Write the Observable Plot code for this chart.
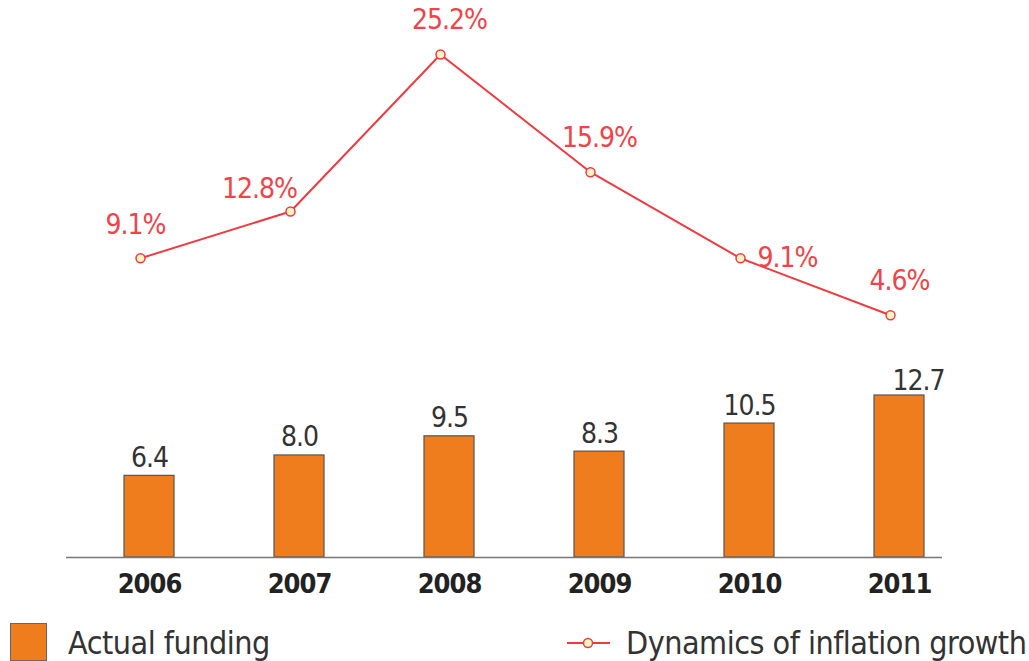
<!DOCTYPE html>
<html>
<head>
<meta charset="utf-8">
<script src="https://cdn.jsdelivr.net/npm/d3@7"></script>
<script src="https://cdn.jsdelivr.net/npm/@observablehq/plot@0.6"></script>
<style>
  body { margin: 0; background: white; font-family: "Liberation Sans Narrow", "DejaVu Sans Condensed", sans-serif; }
  #wrap { position: relative; width: 1029px; height: 615px; }
  #wrap svg { position: absolute; left: 0; top: 0; }
  #wrap svg text { letter-spacing: -1px; }
  #legend { position: relative; width: 1029px; height: 46px; color: #333; }
  .sw { position: absolute; left: 10px; top: 8px; width: 35px; height: 36px; background: #ef7d1e; border: 1px solid #666; }
  .lt { position: absolute; font-size: 32px; letter-spacing: -0.5px; line-height: 1; white-space: nowrap; }
</style>
</head>
<body>
<div id="wrap"></div>
<div id="legend">
  <div class="sw"></div>
  <div class="lt" style="left:68px; top:12px;">Actual funding</div>
  <svg style="position:absolute; left:566px; top:21px;" width="46" height="14">
    <line x1="1" y1="7" x2="44" y2="7" stroke="#ee3b42" stroke-width="2"></line>
    <circle cx="22" cy="7" r="4.5" fill="#fff4c4" stroke="#ee3b42" stroke-width="1.5"></circle>
  </svg>
  <div class="lt" style="left:626px; top:12px;">Dynamics of inflation growth</div>
</div>
<script>
const years = ["2006", "2007", "2008", "2009", "2010", "2011"];
const funding = [6.4, 8.0, 9.5, 8.3, 10.5, 12.7];
const inflation = [9.1, 12.8, 25.2, 15.9, 9.1, 4.6];

const barData = years.map((year, i) => ({year, value: funding[i]}));
const lineData = years.map((year, i) => ({year, value: inflation[i], label: inflation[i].toFixed(1) + "%"}));

const FONT = '"Liberation Sans Narrow", "DejaVu Sans Condensed", sans-serif';
const RED = "#ee3b42";
const RED_TEXT = "#f04448";
const W = 1029, H = 615;
const xScale = {type: "band", domain: years, range: [77.3, 971], paddingInner: 0.668, paddingOuter: 0.3};

const bars = Plot.plot({
  width: W, height: H,
  marginLeft: 66, marginRight: 87, marginTop: 0, marginBottom: 58,
  style: {fontFamily: FONT, background: "white"},
  x: xScale,
  y: {domain: [0, 12.7], range: [557, 395], axis: null},
  marks: [
    Plot.barY(barData, {x: "year", y: "value", fill: "#ef7d1e", stroke: "#555", strokeWidth: 1.2}),
    Plot.ruleY([0], {stroke: "#777", strokeWidth: 1.5}),
    Plot.axisX({tickSize: 0, tickPadding: 16, fontSize: 27, fontWeight: "bold", fill: "#222", label: null}),
    Plot.text(barData.filter(d => d.year !== "2011"), {x: "year", y: "value", text: d => d.value.toFixed(1), dy: -18, fontSize: 28, fill: "#333"}),
    Plot.text(barData.filter(d => d.year === "2011"), {x: "year", y: "value", text: d => d.value.toFixed(1), dy: -14, dx: 19, fontSize: 28, fill: "#333"})
  ]
});

const line = Plot.plot({
  width: W, height: H,
  marginLeft: 66, marginRight: 87, marginTop: 0, marginBottom: 58,
  style: {fontFamily: FONT, background: "transparent"},
  x: {...xScale, axis: null},
  y: {domain: [0, 25.2], range: [373, 54], axis: null},
  marks: [
    Plot.line(lineData, {x: "year", y: "value", stroke: RED, strokeWidth: 2, dx: -9}),
    Plot.dot(lineData, {x: "year", y: "value", r: 4.5, fill: "#fff4c4", stroke: RED, strokeWidth: 1.5, dx: -9}),
    Plot.text(lineData.filter(d => ["2008", "2009", "2011"].includes(d.year)), {x: "year", y: "value", text: "label", dy: -34, fontSize: 28, fill: RED_TEXT}),
    Plot.text(lineData.filter(d => d.year === "2006"), {x: "year", y: "value", text: "label", dx: -14, dy: -33, fontSize: 28, fill: RED_TEXT}),
    Plot.text(lineData.filter(d => d.year === "2007"), {x: "year", y: "value", text: "label", dx: -40, dy: -22, fontSize: 28, fill: RED_TEXT}),
    Plot.text(lineData.filter(d => d.year === "2010"), {x: "year", y: "value", text: "label", dx: 8, dy: 0, textAnchor: "start", fontSize: 28, fill: RED_TEXT})
  ]
});

const wrap = document.getElementById("wrap");
wrap.appendChild(bars);
wrap.appendChild(line);
</script>
</body>
</html>
